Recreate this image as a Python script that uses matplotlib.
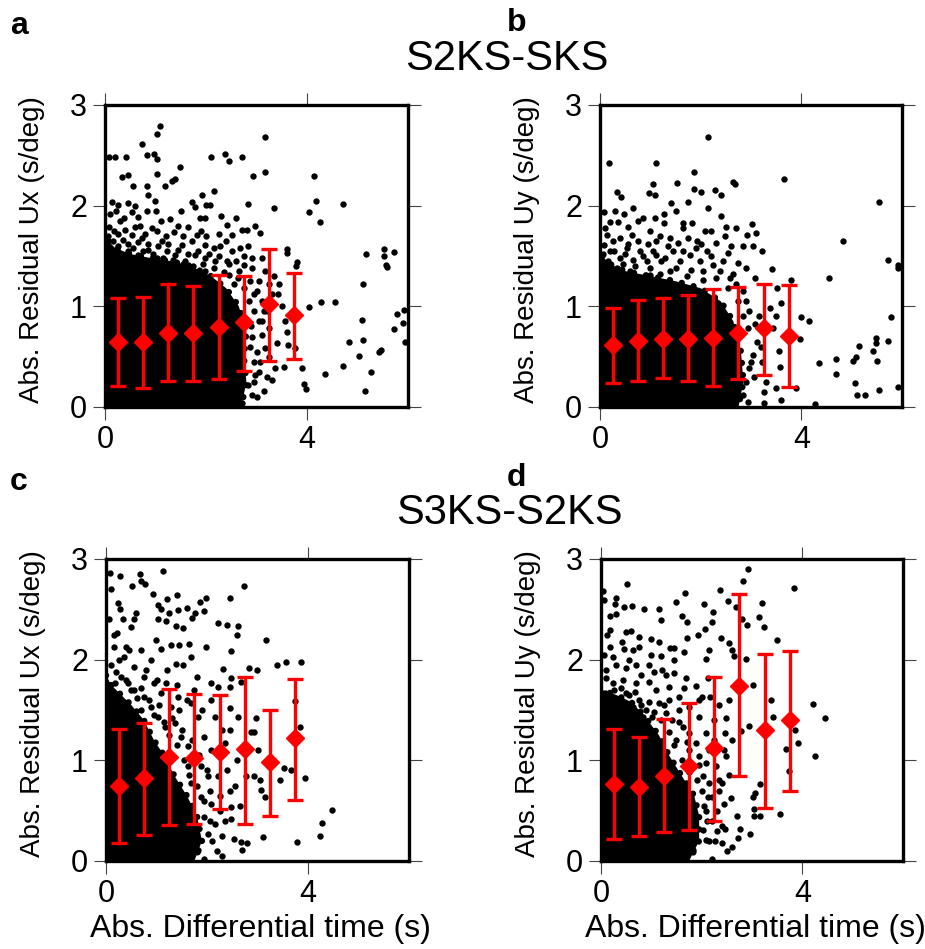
import matplotlib
matplotlib.use('Agg')
import matplotlib.pyplot as plt
import numpy as np

plt.rcParams['font.family'] = ['Liberation Sans', 'DejaVu Sans']

# bin centres of the differential time (s)
bins = [0.25, 0.75, 1.25, 1.75, 2.25, 2.75, 3.25, 3.75]

# binned means and error bar ends, one set per panel
a_mean = [0.65, 0.65, 0.74, 0.74, 0.79, 0.84, 1.02, 0.91]
a_hi = [1.08, 1.09, 1.22, 1.20, 1.31, 1.30, 1.57, 1.33]
a_lo = [0.21, 0.19, 0.26, 0.26, 0.28, 0.36, 0.46, 0.48]

b_mean = [0.62, 0.66, 0.68, 0.68, 0.69, 0.74, 0.78, 0.71]
b_hi = [0.98, 1.06, 1.08, 1.11, 1.17, 1.19, 1.22, 1.21]
b_lo = [0.24, 0.26, 0.29, 0.26, 0.21, 0.28, 0.32, 0.20]

c_mean = [0.75, 0.82, 1.03, 1.02, 1.08, 1.11, 0.98, 1.22]
c_hi = [1.31, 1.37, 1.71, 1.66, 1.65, 1.83, 1.50, 1.81]
c_lo = [0.18, 0.26, 0.36, 0.37, 0.52, 0.37, 0.45, 0.61]

d_mean = [0.76, 0.74, 0.84, 0.94, 1.12, 1.74, 1.30, 1.40]
d_hi = [1.31, 1.23, 1.41, 1.57, 1.83, 2.65, 2.06, 2.09]
d_lo = [0.22, 0.25, 0.29, 0.31, 0.40, 0.84, 0.53, 0.70]

# outline of the fully saturated part of each point cloud
a_core = [(0, 0), (2.7, 0), (2.8, 0.25), (2.75, 0.5), (2.8, 0.75), (2.65, 1.0), (2.4, 1.18),
          (2.1, 1.3), (1.7, 1.4), (1.3, 1.45), (0.9, 1.48), (0.5, 1.52), (0.2, 1.58), (0, 1.68)]
b_core = [(0, 0), (2.75, 0), (2.85, 0.25), (2.8, 0.55), (2.65, 0.85), (2.4, 1.05), (2.0, 1.18),
          (1.5, 1.25), (1.0, 1.3), (0.5, 1.35), (0.2, 1.42), (0, 1.52)]
c_core = [(0, 0), (1.75, 0), (1.9, 0.2), (1.8, 0.45), (1.6, 0.65), (1.35, 0.85), (1.15, 1.05),
          (0.95, 1.2), (0.75, 1.4), (0.5, 1.55), (0.3, 1.65), (0.1, 1.75), (0, 1.85)]
d_core = [(0, 0), (1.75, 0), (1.95, 0.2), (1.95, 0.45), (1.85, 0.65), (1.6, 0.85), (1.35, 1.05),
          (1.15, 1.25), (0.85, 1.45), (0.6, 1.58), (0.3, 1.65), (0, 1.7)]

# individual measurements outside the saturated core
a_pts = [(1.08, 2.79), (1.02, 2.71), (0.73, 2.61), (0.07, 2.48), (0.20, 2.48), (0.42, 2.48),
         (0.83, 2.50), (0.97, 2.51), (1.02, 2.46), (1.49, 2.38), (2.10, 2.48), (2.38, 2.51),
         (2.45, 2.44), (2.72, 2.48), (3.16, 2.68), (3.17, 2.33), (2.94, 2.29), (4.14, 2.29),
         (0.34, 2.28), (0.46, 2.30), (0.55, 2.20), (0.83, 2.20), (1.02, 2.31), (1.19, 2.20),
         (1.32, 2.25), (1.39, 2.26), (0.13, 2.04), (0.26, 2.01), (0.46, 2.03), (0.53, 1.94),
         (0.86, 2.11), (0.99, 2.05), (0.83, 1.95), (0.66, 1.89), (1.72, 2.04), (1.78, 1.99),
         (1.93, 2.11), (2.00, 2.01), (2.08, 2.01), (2.15, 2.15), (1.98, 1.88), (2.84, 2.02),
         (3.34, 1.98), (4.18, 2.05), (4.03, 1.94), (4.25, 1.84), (4.71, 2.02), (2.41, 1.81),
         (2.51, 1.71), (2.71, 1.76), (2.81, 1.76), (2.97, 1.80), (3.06, 1.73), (3.60, 1.57),
         (3.60, 1.53), (3.80, 1.44), (3.79, 1.40), (3.34, 1.30), (3.44, 1.22), (3.50, 1.00),
         (3.42, 1.12), (4.03, 0.99), (4.28, 1.04), (4.56, 1.04), (5.16, 1.52), (5.52, 1.57),
         (5.52, 1.50), (5.73, 1.54), (5.56, 1.41), (5.58, 1.39), (5.11, 1.22), (5.78, 0.92),
         (5.92, 0.96), (5.90, 0.83), (5.73, 0.77), (5.94, 0.65), (5.08, 0.86), (5.10, 0.67),
         (4.84, 0.65), (5.47, 0.57), (5.43, 0.55), (5.02, 0.51), (4.71, 0.41), (5.27, 0.35),
         (5.14, 0.16), (4.36, 0.33), (3.90, 0.39), (3.95, 0.23), (3.99, 0.18), (3.62, 0.62),
         (3.60, 0.75), (3.57, 0.85), (3.40, 0.64), (3.37, 0.39), (3.30, 0.27), (3.15, 0.16),
         (3.55, 0.40), (3.77, 0.59),
         (0.07, 1.79), (0.17, 1.75), (0.30, 1.85), (0.40, 1.76), (0.53, 1.71), (0.60, 1.79),
         (0.73, 1.68), (0.93, 1.78), (1.02, 1.75), (1.12, 1.65), (1.29, 1.87), (1.36, 1.74),
         (1.65, 1.79), (1.82, 1.71), (1.90, 1.75), (1.52, 1.61), (1.72, 1.65), (1.98, 1.61),
         (2.15, 1.58), (2.28, 1.60), (2.51, 1.55), (2.68, 1.58), (2.83, 1.60), (2.91, 1.48),
         (3.11, 1.48), (2.76, 1.41), (2.91, 1.38), (2.41, 1.45), (2.18, 1.45), (1.98, 1.48),
         (1.78, 1.51), (1.59, 1.45), (1.39, 1.51), (1.22, 1.55), (1.02, 1.48), (0.86, 1.56),
         (0.66, 1.51), (0.46, 1.55), (0.26, 1.60), (0.13, 1.55), (0.36, 1.45), (0.60, 1.38),
         (0.86, 1.41), (1.19, 1.38), (1.45, 1.35), (1.72, 1.38), (1.98, 1.35), (2.45, 1.31),
         (2.64, 1.28), (2.87, 1.25), (3.01, 1.15), (3.11, 1.05), (3.14, 0.95), (3.04, 0.85),
         (3.11, 0.72), (3.17, 0.59), (3.07, 0.45), (2.97, 0.32), (2.84, 0.22), (2.91, 0.12),
         (2.71, 0.04), (3.24, 0.78), (3.24, 1.22), (3.30, 1.12), (3.17, 1.35),
         (2.95, 0.95), (2.95, 0.25), (2.88, 0.60), (2.90, 0.80),
         (0.05, 1.70), (0.15, 1.65), (0.25, 1.72), (0.35, 1.66), (0.45, 1.62), (0.55, 1.58),
         (0.65, 1.64), (0.75, 1.55), (0.85, 1.62), (0.95, 1.52), (1.05, 1.60), (1.15, 1.48),
         (1.25, 1.62), (1.35, 1.46), (1.45, 1.56), (1.55, 1.42), (1.65, 1.52), (1.75, 1.40),
         (1.85, 1.55), (1.95, 1.42), (2.05, 1.52), (2.15, 1.38), (2.25, 1.50), (2.35, 1.34),
         (2.45, 1.42), (2.55, 1.22), (2.65, 1.35), (2.75, 1.18), (2.85, 1.05), (2.95, 1.12),
         (3.05, 1.25), (2.92, 0.70), (3.00, 0.55), (3.05, 0.35), (3.00, 0.10), (2.95, 0.45),
         (3.20, 0.95), (3.25, 0.50), (3.20, 0.30), (3.10, 0.85), (0.10, 1.92), (0.22, 1.95),
         (0.38, 1.88), (0.70, 1.80), (0.80, 1.72), (1.10, 1.85), (1.20, 1.70), (1.45, 1.80),
         (1.55, 1.70), (2.00, 1.70), (2.25, 1.72), (2.40, 1.65), (2.60, 1.45), (2.75, 1.50),
         (1.50, 1.95), (1.00, 1.95), (0.60, 2.00), (2.30, 1.90), (1.88, 1.88), (2.60, 1.88)]

b_pts = [(2.15, 2.68), (0.18, 2.42), (1.11, 2.42), (3.66, 2.26), (1.87, 2.33), (1.53, 2.23),
         (1.06, 2.22), (0.33, 2.14), (0.41, 2.09), (0.98, 2.13), (1.09, 2.11), (1.87, 2.17),
         (2.00, 2.14), (2.28, 2.16), (2.40, 2.11), (2.64, 2.24), (2.68, 2.22), (1.41, 2.03),
         (1.74, 2.04), (2.15, 1.98), (5.55, 2.04), (0.07, 1.94), (0.48, 1.92), (0.76, 1.85),
         (0.86, 1.88), (1.09, 1.88), (1.27, 1.92), (1.27, 1.83), (1.64, 1.83), (1.82, 1.83),
         (1.65, 1.78), (2.08, 1.75), (2.50, 1.79), (3.02, 1.82), (2.93, 1.71), (3.09, 1.73),
         (4.82, 1.65), (0.20, 1.84), (0.36, 1.84), (0.56, 1.79), (0.99, 1.75), (1.39, 1.68),
         (1.55, 1.63), (1.92, 1.65), (2.31, 1.63), (2.48, 1.70), (2.84, 1.60), (3.04, 1.60),
         (3.22, 1.55), (2.54, 1.53), (2.74, 1.43), (2.91, 1.38), (3.42, 1.37), (3.07, 1.28),
         (3.79, 1.26), (4.55, 1.28), (5.72, 1.46), (5.92, 1.41), (5.92, 1.38), (5.78, 0.89),
         (3.52, 1.18), (3.59, 1.03), (3.50, 0.90), (4.00, 0.89), (4.16, 0.85), (3.97, 0.68),
         (3.56, 0.56), (3.57, 0.40), (3.50, 0.19), (3.59, 0.07), (3.89, 0.19), (4.27, 0.03),
         (4.36, 0.44), (4.69, 0.48), (4.69, 0.33), (5.02, 0.46), (5.09, 0.50), (5.14, 0.61),
         (5.49, 0.69), (5.49, 0.64), (5.43, 0.56), (5.50, 0.46), (5.72, 0.66), (5.07, 0.24),
         (5.11, 0.12), (5.27, 0.12), (5.55, 0.17), (5.92, 0.20), (3.26, 0.04), (3.30, 0.25),
         (3.21, 0.45), (3.44, 0.78), (3.37, 0.98),
         (0.07, 1.61), (0.20, 1.55), (0.40, 1.48), (0.53, 1.58), (0.66, 1.46), (0.79, 1.55),
         (0.93, 1.45), (1.12, 1.51), (1.22, 1.45), (1.45, 1.55), (1.59, 1.45), (1.78, 1.51),
         (1.98, 1.45), (2.12, 1.55), (2.25, 1.41), (2.38, 1.35), (2.58, 1.28), (2.71, 1.22),
         (2.84, 1.15), (2.91, 1.05), (2.97, 0.95), (3.07, 0.82), (3.11, 0.65), (3.04, 0.52),
         (2.97, 0.39), (2.91, 0.25), (2.84, 0.12), (0.33, 1.38), (0.60, 1.35),
         (0.99, 1.31), (1.39, 1.35), (1.72, 1.30), (2.05, 1.26), (0.13, 1.71), (0.26, 1.65),
         (0.76, 1.65), (1.12, 1.65), (0.63, 1.71),
         (0.05, 1.52), (0.15, 1.45), (0.28, 1.55), (0.45, 1.42), (0.50, 1.52), (0.70, 1.40),
         (0.85, 1.50), (1.00, 1.38), (1.05, 1.55), (1.20, 1.32), (1.30, 1.48), (1.50, 1.38),
         (1.65, 1.55), (1.80, 1.36), (1.90, 1.58), (2.05, 1.35), (2.20, 1.50), (2.30, 1.28),
         (2.45, 1.45), (2.55, 1.18), (2.65, 1.32), (2.75, 1.05), (2.85, 0.90), (2.95, 0.78),
         (3.00, 0.45), (3.05, 0.30), (2.95, 0.05), (3.15, 0.90), (3.20, 0.60), (3.25, 0.15),
         (0.10, 1.78), (0.40, 1.68), (0.55, 1.62), (0.95, 1.62), (1.20, 1.70), (1.35, 1.60),
         (1.75, 1.68), (2.00, 1.62), (2.20, 1.75), (2.60, 1.60), (2.70, 1.78), (0.30, 1.95),
         (0.65, 1.98), (1.50, 1.95), (2.40, 1.90)]

c_pts = [(1.12, 2.88), (0.07, 2.86), (0.28, 2.83), (0.67, 2.85), (0.69, 2.78), (0.77, 2.75),
         (0.52, 2.73), (2.73, 2.73), (0.93, 2.65), (1.20, 2.60), (1.41, 2.64), (1.87, 2.57),
         (1.98, 2.61), (2.46, 2.61), (0.23, 2.56), (1.02, 2.54), (1.09, 2.50), (1.24, 2.46),
         (1.42, 2.49), (1.60, 2.51), (1.77, 2.46), (1.95, 2.48), (0.28, 2.50), (0.33, 2.40),
         (0.59, 2.46), (0.56, 2.40), (0.50, 2.32), (1.02, 2.40), (1.19, 2.38), (1.39, 2.33),
         (1.52, 2.31), (1.70, 2.41), (2.21, 2.36), (2.39, 2.34), (2.61, 2.33), (2.60, 2.25),
         (3.17, 2.20), (0.22, 2.26), (0.99, 2.20), (1.29, 2.15), (1.45, 2.15), (1.64, 2.16),
         (1.98, 2.13), (2.48, 2.09), (3.39, 1.95), (3.57, 1.98), (3.87, 1.98), (0.15, 2.13),
         (0.40, 2.13), (0.69, 2.10), (1.09, 2.11), (1.69, 2.03), (1.39, 1.96), (1.52, 1.95),
         (1.80, 1.83), (2.31, 1.91), (2.48, 1.82), (2.45, 1.73), (2.84, 1.92), (2.99, 1.90),
         (2.68, 1.78), (2.21, 1.73), (2.08, 1.60), (2.15, 1.43), (2.45, 1.52), (2.46, 1.30),
         (2.61, 1.43), (2.97, 1.42), (2.94, 1.28), (3.01, 1.10), (2.88, 1.28), (2.78, 0.84),
         (2.94, 0.84), (3.04, 0.80), (3.07, 0.71), (3.14, 0.64), (3.44, 0.80), (3.52, 0.92),
         (3.67, 0.90), (3.95, 0.82), (3.85, 1.33), (3.75, 1.59), (4.47, 0.51), (4.28, 0.38),
         (4.24, 0.25), (3.79, 0.19), (3.11, 0.24), (2.68, 0.19), (2.70, 0.11), (2.79, 0.18),
         (2.54, 0.22), (2.47, 0.42), (2.48, 0.54), (2.45, 0.70),
         (0.07, 1.70), (0.17, 1.77), (0.30, 1.83), (0.43, 1.77), (0.56, 1.70), (0.76, 1.63),
         (0.89, 1.53), (1.02, 1.43), (1.16, 1.33), (1.36, 1.37), (1.49, 1.23), (1.62, 1.14),
         (1.75, 1.04), (1.88, 0.94), (2.02, 0.84), (2.05, 0.70), (2.08, 0.57), (1.95, 0.44),
         (2.15, 0.37), (2.02, 0.27), (1.75, 0.17), (1.82, 0.11), (1.49, 0.07), (1.26, 0.02),
         (2.21, 0.84), (1.29, 1.53), (1.45, 1.50), (1.09, 1.67), (0.69, 1.50), (0.56, 1.93),
         (0.36, 2.03), (0.76, 1.83), (0.96, 1.77), (1.19, 1.77), (1.42, 1.63), (1.69, 1.57),
         (1.82, 1.43), (1.95, 1.23), (2.08, 1.10), (1.62, 0.94), (1.69, 0.77), (1.49, 0.64),
         (1.88, 0.64), (2.28, 1.04), (2.35, 1.17), (1.75, 1.70), (2.08, 1.77),
         (2.30, 0.25), (2.25, 0.50),
         (0.10, 1.95), (0.20, 1.88), (0.40, 1.80), (0.50, 1.70), (0.62, 1.62), (0.70, 1.72),
         (0.85, 1.60), (0.95, 1.45), (1.05, 1.55), (1.15, 1.38), (1.25, 1.25), (1.30, 1.42),
         (1.40, 1.15), (1.50, 1.30), (1.55, 1.00), (1.65, 0.85), (1.70, 1.20), (1.80, 0.75),
         (1.85, 1.05), (1.95, 0.60), (2.00, 0.90), (2.05, 0.40), (2.10, 0.20), (2.20, 0.10),
         (2.25, 0.65), (2.35, 0.40), (2.40, 0.90), (2.30, 1.30), (1.90, 1.50), (1.60, 1.60),
         (1.20, 1.90), (0.90, 2.00), (0.45, 2.10), (0.15, 2.25), (0.05, 2.40), (0.10, 2.70),
         (2.55, 0.75), (2.60, 1.00), (2.65, 0.55), (2.30, 0.05), (1.95, 0.02), (1.40, 1.75),
         (1.00, 1.80), (0.80, 1.90), (0.25, 2.00)]

d_pts = [(2.93, 2.90), (2.83, 2.78), (0.51, 2.75), (3.83, 2.71), (2.36, 2.69), (1.67, 2.66),
         (2.53, 2.58), (0.03, 2.68), (0.05, 2.59), (0.30, 2.61), (0.28, 2.55), (0.45, 2.52),
         (0.61, 2.53), (0.86, 2.50), (1.16, 2.50), (1.49, 2.57), (2.04, 2.55), (2.23, 2.47),
         (2.68, 2.52), (3.19, 2.56), (3.14, 2.42), (3.24, 2.32), (3.50, 2.20), (0.17, 2.43),
         (0.30, 2.45), (1.19, 2.39), (1.61, 2.43), (1.71, 2.37), (2.20, 2.37), (2.07, 2.30),
         (2.81, 2.40), (2.91, 2.34), (0.18, 2.29), (0.50, 2.27), (0.75, 2.23), (0.99, 2.21),
         (1.16, 2.18), (1.71, 2.22), (1.92, 2.25), (2.38, 2.22), (2.55, 2.17), (0.41, 2.18),
         (0.18, 2.13), (0.46, 2.11), (0.64, 2.10), (0.76, 2.13), (1.37, 2.12), (1.45, 2.12),
         (2.15, 2.10), (2.60, 2.10), (0.23, 2.03), (0.99, 2.05), (1.19, 2.04), (1.45, 2.00),
         (1.65, 2.08), (2.64, 2.04), (2.88, 2.01), (0.10, 1.90), (0.50, 1.92), (0.69, 1.95),
         (0.96, 1.95), (1.22, 1.90), (1.45, 1.87), (1.69, 1.82), (2.08, 2.01), (2.12, 1.82),
         (1.88, 1.74), (2.00, 1.63), (2.17, 1.63), (2.48, 1.42), (2.46, 1.27), (3.01, 1.75),
         (2.78, 1.29), (2.94, 1.34), (3.38, 1.60), (3.42, 1.43), (3.85, 1.30), (3.92, 1.17),
         (3.67, 1.11), (3.73, 0.89), (4.22, 1.56), (4.46, 1.42), (4.26, 1.04), (3.01, 0.64),
         (3.05, 0.68), (3.15, 0.76), (3.03, 0.52), (3.03, 0.45), (3.16, 0.45), (3.56, 0.47),
         (2.97, 0.27), (2.76, 0.32), (2.61, 0.14), (2.72, 0.23), (2.41, 0.18), (2.47, 0.32),
         (2.27, 0.20), (2.08, 0.21), (1.70, 0.07), (2.58, 0.63), (2.45, 0.57), (2.41, 0.77),
         (2.48, 1.04), (2.45, 1.10), (2.12, 0.64),
         (0.07, 1.67), (0.20, 1.63), (0.36, 1.60), (0.50, 1.67), (0.63, 1.53), (0.76, 1.60),
         (0.89, 1.50), (1.02, 1.43), (1.16, 1.57), (1.29, 1.47), (1.42, 1.40), (1.55, 1.50),
         (1.62, 1.33), (1.75, 1.27), (1.49, 1.20), (1.75, 1.10), (1.88, 1.17), (1.95, 1.04),
         (2.08, 0.97), (2.02, 0.84), (2.15, 0.77), (2.21, 0.64), (2.08, 0.50), (2.21, 0.40),
         (2.02, 0.31), (1.88, 0.21), (1.82, 0.11), (1.55, 0.06), (1.36, 0.02), (1.09, 1.70),
         (1.36, 1.73), (0.96, 1.78), (0.69, 1.77), (0.43, 1.80), (0.23, 1.77), (1.55, 1.63),
         (1.75, 1.53), (1.95, 1.43), (2.08, 1.27), (2.15, 1.10), (2.28, 0.94), (2.25, 1.20),
         (1.36, 1.60), (0.83, 1.43), (2.30, 0.30), (2.35, 0.80),
         (0.10, 1.82), (0.25, 1.70), (0.40, 1.72), (0.55, 1.65), (0.68, 1.68), (0.80, 1.55),
         (0.95, 1.58), (1.05, 1.48), (1.20, 1.40), (1.25, 1.55), (1.35, 1.28), (1.45, 1.15),
         (1.55, 1.38), (1.60, 1.00), (1.70, 1.18), (1.75, 0.88), (1.90, 0.80), (1.95, 0.95),
         (2.00, 0.70), (2.05, 0.55), (2.10, 0.40), (2.15, 0.20), (2.30, 0.50), (2.35, 0.70),
         (2.40, 0.35), (2.50, 0.10), (2.25, 1.40), (2.35, 1.55), (1.95, 1.60), (1.65, 1.72),
         (1.30, 1.85), (1.05, 1.88), (0.80, 1.85), (0.55, 2.00), (0.30, 1.95), (0.05, 2.05),
         (0.12, 2.25), (0.60, 2.28), (2.55, 0.85), (2.60, 1.20), (2.20, 0.02), (2.55, 1.60),
         (2.70, 0.45)]

panels = [
    ('a', a_core, a_pts, a_mean, a_hi, a_lo, 'Abs. Residual Ux (s/deg)', [105, 105, 303, 302], False),
    ('b', b_core, b_pts, b_mean, b_hi, b_lo, 'Abs. Residual Uy (s/deg)', [600, 105, 302, 302], False),
    ('c', c_core, c_pts, c_mean, c_hi, c_lo, 'Abs. Residual Ux (s/deg)', [106, 559, 303, 302], True),
    ('d', d_core, d_pts, d_mean, d_hi, d_lo, 'Abs. Residual Uy (s/deg)', [601, 559, 302, 302], True),
]

W, H = 925, 949
fig = plt.figure(figsize=(W / 100, H / 100), dpi=100)

for name, core, pts, mean, hi, lo, ylab, box, xlab in panels:
    left, top, w, h = box
    ax = fig.add_axes([left / W, 1 - (top + h) / H, w / W, h / H])
    cx, cy = zip(*core)
    ax.fill(cx, cy, color='black', lw=0, zorder=1)
    # beaded edge so the saturated blob reads as packed dots
    ax.plot(list(cx) + [cx[0]], list(cy) + [cy[0]], color='black', lw=4.6,
            linestyle=(0, (0.01, 1.9)), dash_capstyle='round', zorder=1)
    px, py = zip(*pts)
    ax.scatter(px, py, s=21, c='black', linewidths=0, zorder=2)
    mean = np.array(mean)
    err = [mean - np.array(lo), np.array(hi) - mean]
    ax.errorbar(bins, mean, yerr=err, fmt='D', color='red', ms=9, elinewidth=2.4,
                capsize=5.5, capthick=2.4, zorder=3)
    ax.set_xlim(0, 6)
    ax.set_ylim(0, 3)
    ax.set_xticks([0, 4])
    ax.set_yticks([0, 1, 2, 3])
    ax.tick_params(direction='out', length=9, width=0.8, top=True, right=True,
                   labelsize=22, pad=4, color='#444444')
    for sp in ax.spines.values():
        sp.set_linewidth(2.4)
        sp.set_zorder(4)
    ax.set_ylabel(ylab, fontsize=20)
    ax.yaxis.set_label_coords(-0.198, 0.52)
    if xlab:
        ax.set_xlabel('Abs. Differential time (s)', fontsize=23)
        ax.xaxis.set_label_coords(0.51, -0.175)

# panel letters and row titles
for letter, x, y in [('a', 10, 34), ('b', 507, 31), ('c', 10, 490), ('d', 507, 486)]:
    fig.text(x / W, 1 - y / H, letter, fontsize=23, fontweight='bold', va='baseline')
fig.text(507 / W, 1 - 70 / H, 'S2KS-SKS', fontsize=30, ha='center', va='baseline')
fig.text(509 / W, 1 - 524 / H, 'S3KS-S2KS', fontsize=30, ha='center', va='baseline')

fig.savefig('out.png', dpi=100, facecolor='white')
